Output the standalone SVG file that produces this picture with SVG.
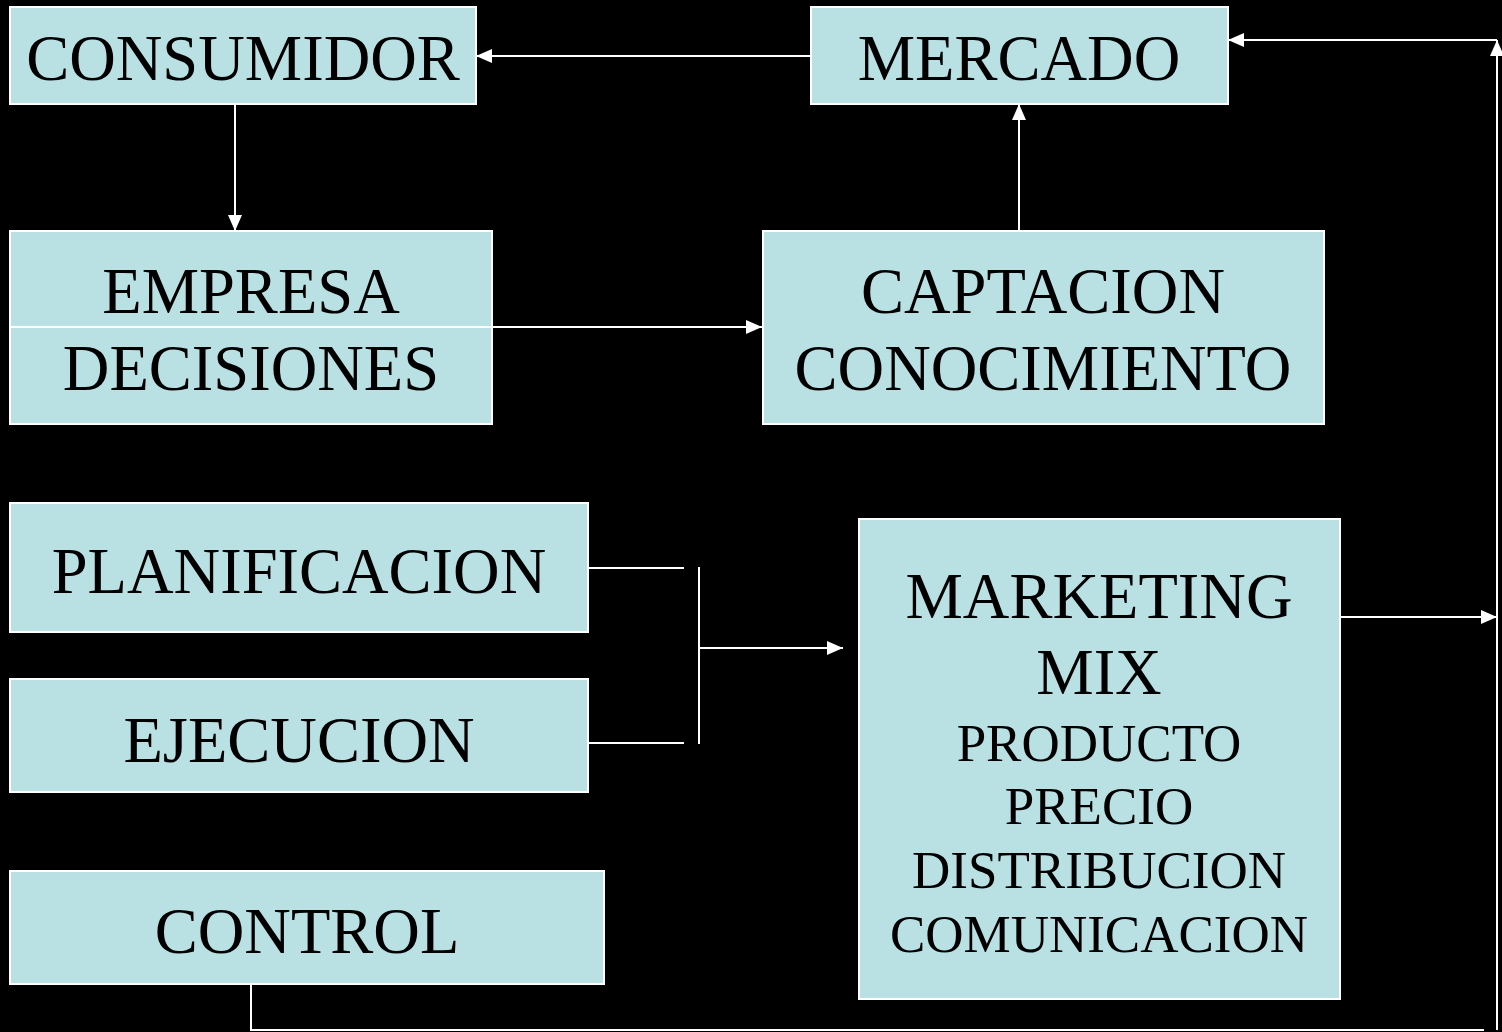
<svg xmlns="http://www.w3.org/2000/svg" width="1502" height="1032" viewBox="0 0 1502 1032">
<defs>
<style>
.box{fill:#B9E0E3;stroke:#FFFFFF;stroke-width:2}
.t{font-family:"Liberation Serif","Times New Roman",serif;fill:#000;text-anchor:middle}
.big{font-size:64.5px}
.small{font-size:53px}
.c{fill:none;stroke:#FFFFFF;stroke-width:2}
</style>
<marker id="arr" markerUnits="userSpaceOnUse" markerWidth="16" markerHeight="14" viewBox="0 0 16 14" refX="16" refY="7" orient="auto">
<path d="M0,0 L16,7 L0,14 Z" fill="#FFFFFF"/>
</marker>
</defs>
<rect width="1502" height="1032" fill="#000000"/>
<g id="connectors">
<path class="c" d="M811,56 H476" marker-end="url(#arr)"/>
<path class="c" d="M235,104 V231" marker-end="url(#arr)"/>
<path class="c" d="M1019,231 V104" marker-end="url(#arr)"/>
<path class="c" d="M1497,40 H1228" marker-end="url(#arr)"/>
<path class="c" d="M1497,1030 V40" marker-end="url(#arr)"/>
<path class="c" d="M1340,617 H1497" marker-end="url(#arr)"/>
<path class="c" d="M588,568 H684"/>
<path class="c" d="M588,743 H684"/>
<path class="c" d="M699,567 V744"/>
<path class="c" d="M699,648 H843" marker-end="url(#arr)"/>
<path class="c" d="M251,984 V1030 H1484"/>
</g>
<g id="consumidor">
<rect class="box" x="10" y="7" width="466" height="97"/>
<text class="t big" x="243" y="80">CONSUMIDOR</text>
</g>
<g id="mercado">
<rect class="box" x="811" y="7" width="417" height="97"/>
<text class="t big" x="1019" y="80">MERCADO</text>
</g>
<g id="empresa">
<rect class="box" x="10" y="231" width="482" height="193"/>
<text class="t big" x="251" y="313">EMPRESA</text>
<text class="t big" x="251" y="390">DECISIONES</text>
</g>
<g id="captacion">
<rect class="box" x="763" y="231" width="561" height="193"/>
<text class="t big" x="1043" y="313">CAPTACION</text>
<text class="t big" x="1043" y="390">CONOCIMIENTO</text>
</g>
<path class="c" d="M10,327 H762" marker-end="url(#arr)"/>
<g id="planificacion">
<rect class="box" x="10" y="503" width="578" height="129"/>
<text class="t big" x="299" y="593">PLANIFICACION</text>
</g>
<g id="ejecucion">
<rect class="box" x="10" y="679" width="578" height="113"/>
<text class="t big" x="299" y="762">EJECUCION</text>
</g>
<g id="control">
<rect class="box" x="10" y="871" width="594" height="113"/>
<text class="t big" x="307" y="953">CONTROL</text>
</g>
<g id="marketing">
<rect class="box" x="859" y="519" width="481" height="480"/>
<text class="t big" x="1099" y="618">MARKETING</text>
<text class="t big" x="1099" y="694">MIX</text>
<text class="t small" x="1099" y="761">PRODUCTO</text>
<text class="t small" x="1099" y="824">PRECIO</text>
<text class="t small" x="1099" y="888">DISTRIBUCION</text>
<text class="t small" x="1099" y="952">COMUNICACION</text>
</g>
</svg>
